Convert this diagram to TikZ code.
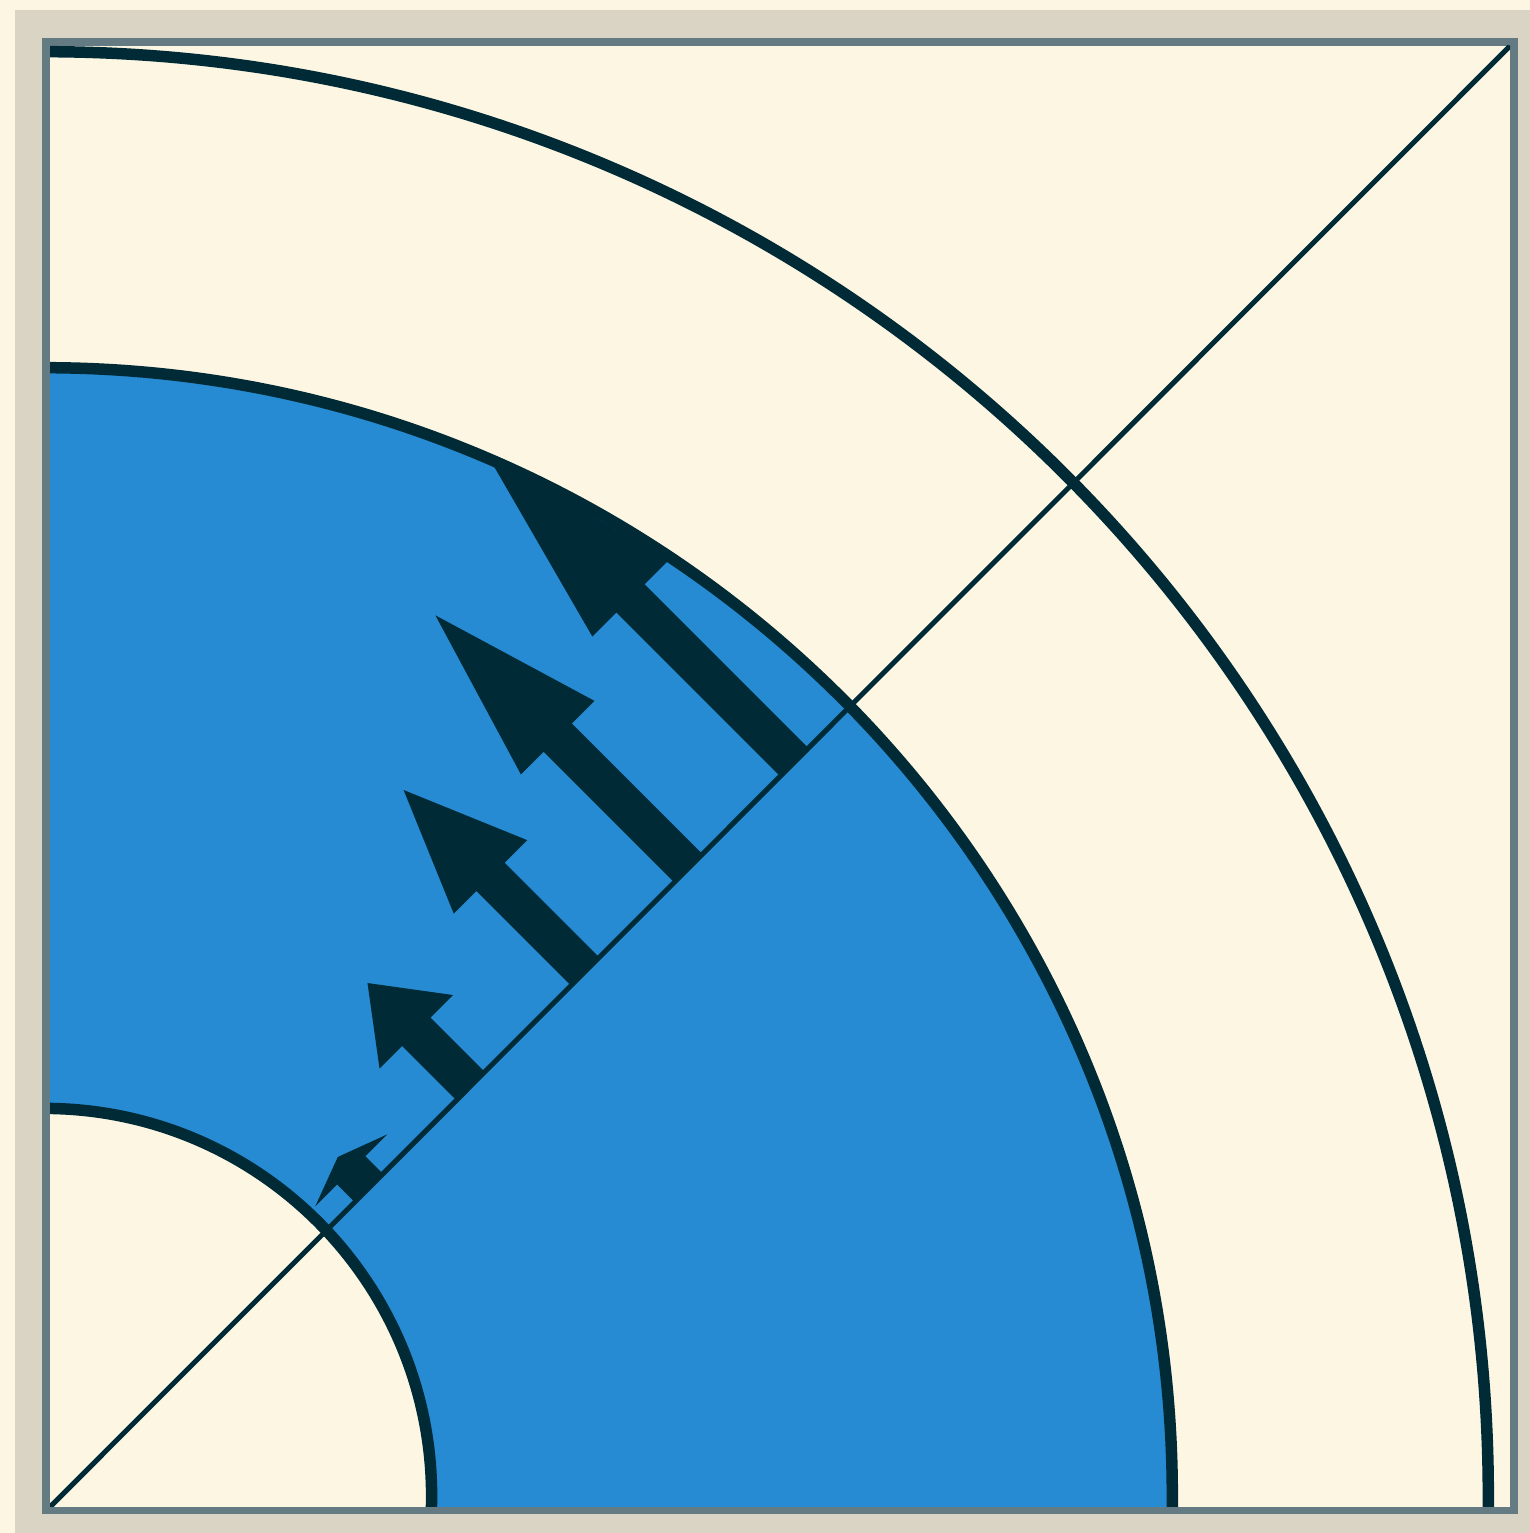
\documentclass[tikz,border=0pt]{standalone}
\usepackage{tikz}
\definecolor{cream}{HTML}{FDF6E3}
\definecolor{frameb}{HTML}{DAD4C5}
\definecolor{bordg}{HTML}{657B83}
\definecolor{ink}{HTML}{002B36}
\definecolor{sblue}{HTML}{268BD2}
\newlength\pxu
\setlength\pxu{0.01cm}
\tikzset{
  ring/.style={draw=ink, line width=11.5\pxu},
  diagline/.style={draw=ink, line width=5\pxu},
  flowfill/.style={fill=ink}
}
% #1 = position along diagonal, #2 = total length, #3 = head length, #4 = head half-width
\newcommand\flowarrow[4]{%
  \fill[flowfill] (#1-20,0) -- (#1-20,#2-#3) -- (#1-#4,#2-#3) -- (#1,#2)
    -- (#1+#4,#2-#3) -- (#1+20,#2-#3) -- (#1+20,0) -- cycle;}
\begin{document}
\begin{tikzpicture}[x=0.01cm,y=0.01cm]
\useasboundingbox (0,0) rectangle (1530,1533);
\fill[cream] (0,0) rectangle (1530,1533);
\fill[frameb] (15,0) rectangle (1530,1523);
\fill[bordg] (42,19) rectangle (1518,1495);
\fill[cream] (50,26) rectangle (1510,1487);
\coordinate (C) at (44,37);
\coordinate (O) at (50,26);
\coordinate (E) at (1510,1487);
\begin{scope}
  \clip (50,26) rectangle (1510,1487);
  \fill[sblue, even odd rule] (C) circle[radius=1128.3] (C) circle[radius=387.6];
  \begin{scope}[shift={(O)}, rotate=45]
    \flowarrow{451}{44}{19}{51}
    \flowarrow{595}{146}{69}{52}
    \flowarrow{757}{257}{123}{52}
    \flowarrow{903}{358}{173}{52}
    \flowarrow{1053}{434}{202}{54}
  \end{scope}
  \draw[ring] (C) circle[radius=387.6];
  \draw[ring] (C) circle[radius=1128.3];
  \draw[ring] (C) circle[radius=1444.3];
  \draw[diagline] (O) -- (E);
\end{scope}
\end{tikzpicture}
\end{document}
